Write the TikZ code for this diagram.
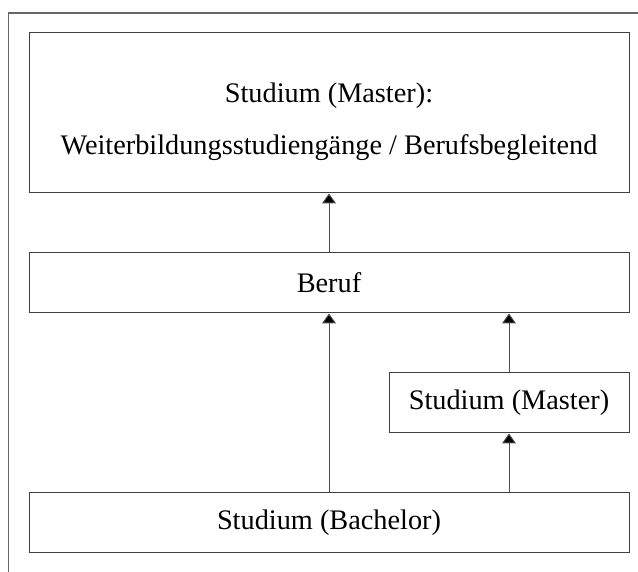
\documentclass[tikz,border=0pt]{standalone}
\usepackage{fontspec}
\setmainfont{Liberation Serif}
\usetikzlibrary{arrows.meta}

\begin{document}
\begin{tikzpicture}[
    x=1pt, y=1pt,
    stage box/.style={draw=black!75, line width=1pt, rectangle, minimum width=#1, minimum height=60pt, inner sep=0pt, font=\fontsize{28.3}{33}\selectfont},
    up arrow/.style={draw=black!70, line width=1pt, -{Triangle[width=14pt,length=10pt,fill=black]}}
]
\useasboundingbox (0,0) rectangle (638,572);
% Rahmen (rechts und unten abgeschnitten)
\draw[black!60, line width=1.2pt] (8.5,0) -- (8.5,559) -- (638,559);

\node [stage box=600pt, minimum height=160pt, align=center] (weiter) at (329,459)
    {\rule{0pt}{38pt}Studium (Master):\\[19pt]Weiterbildungsstudiengänge / Berufsbegleitend};
\node [stage box=600pt] (beruf) at (329,289) {Beruf};
\node [stage box=240pt] (master) at (509,169) {Studium (Master)};
\node [stage box=600pt] (bachelor) at (329,49) {Studium (Bachelor)};

\draw [up arrow] (beruf.north) -- (weiter.south);
\draw [up arrow] (bachelor.north) -- (beruf.south);
\draw [up arrow] (master.north) -- (beruf.south -| master);
\draw [up arrow] (bachelor.north -| master) -- (master.south);

\end{tikzpicture}
\end{document}
